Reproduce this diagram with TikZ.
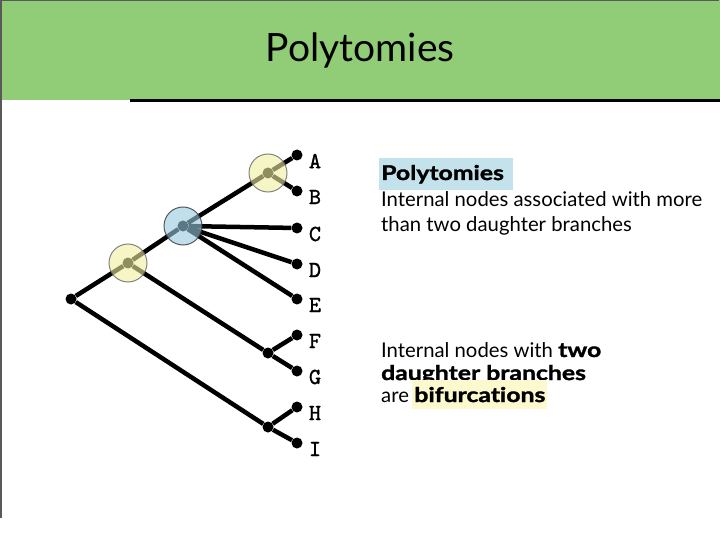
\documentclass[tikz,border=0pt]{standalone}
\usepackage{fontspec}
\setmainfont{Lato}[Ligatures=NoCommon, BoldFeatures={FakeStretch=1.22, FakeBold=1.6}]
\newfontfamily\leaffont{lmmono10-regular.otf}[FakeBold=1.2]
\usetikzlibrary{positioning}

\definecolor{headgreen}{RGB}{145,204,118}
\definecolor{boxblue}{RGB}{196,226,236}
\definecolor{hiyellow}{RGB}{252,249,206}
\definecolor{polyblue}{RGB}{150,200,222}
\definecolor{biyellow}{RGB}{240,238,160}

\begin{document}
\begin{tikzpicture}[
    x=1pt, y=-1pt,
    branch/.style={line width=4.5pt},
    tip/.style={circle, fill=black, inner sep=0pt, minimum size=11pt},
    leaf/.style={font=\leaffont\fontsize{23}{23}\selectfont, anchor=center},
    ring/.style={circle, draw=gray!80!black, line width=1pt, minimum size=38pt, inner sep=0pt, fill opacity=0.6, draw opacity=0.8},
    txt/.style={font=\fontsize{20.3}{20.3}\selectfont, anchor=base west, inner sep=0pt}
]
\useasboundingbox (0,0) rectangle (720,540);

% header
\fill[headgreen] (0,0) rectangle (720,100);
\draw[gray!70!black, line width=1.5pt] (0.75,0) -- (719,0);
\draw[gray!70!black, line width=1.5pt] (0.75,0) -- (0.75,518);
\draw[line width=3pt] (130,101) -- (720,101);
\node[font=\fontsize{39}{39}\selectfont] (title) at (360,50) {Polytomies};

% tree
\node[tip] (root) at (71,299) {};
\node[tip] (n3) at (128,263) {};
\node[tip] (nCDE) at (183,226) {};
\node[tip] (nAB) at (268,173) {};
\node[tip] (nFG) at (268,353) {};
\node[tip] (nHI) at (268,427) {};

\node[tip] (tA) at (297,155) {};
\node[tip] (tB) at (297,191) {};
\node[tip] (tC) at (297,228) {};
\node[tip] (tD) at (297,264) {};
\node[tip] (tE) at (297,299) {};
\node[tip] (tF) at (297,335) {};
\node[tip] (tG) at (297,371) {};
\node[tip] (tH) at (297,407) {};
\node[tip] (tI) at (297,443) {};

\node[leaf] (lA) at (315,161) {A};
\node[leaf] (lB) at (315,197) {B};
\node[leaf] (lC) at (315,234) {C};
\node[leaf] (lD) at (315,270) {D};
\node[leaf] (lE) at (315,305) {E};
\node[leaf] (lF) at (315,341) {F};
\node[leaf] (lG) at (315,377) {G};
\node[leaf] (lH) at (315,413) {H};
\node[leaf] (lI) at (315,449) {I};

\draw[branch] (root) -- (n3);
\draw[branch] (root) -- (nHI);
\draw[branch] (n3) -- (nCDE);
\draw[branch] (n3) -- (nFG);
\draw[branch] (nCDE) -- (nAB);
\draw[branch] (nCDE) -- (tC);
\draw[branch] (nCDE) -- (tD);
\draw[branch] (nCDE) -- (tE);
\draw[branch] (nAB) -- (tA);
\draw[branch] (nAB) -- (tB);
\draw[branch] (nFG) -- (tF);
\draw[branch] (nFG) -- (tG);
\draw[branch] (nHI) -- (tH);
\draw[branch] (nHI) -- (tI);

% highlighted internal nodes
\node[ring, fill=biyellow] (cAB) at (nAB) {};
\node[ring, fill=biyellow] (c3) at (n3) {};
\node[ring, fill=polyblue, draw=black!80] (cCDE) at (nCDE) {};

% polytomies text
\node[fill=boxblue, anchor=base west, text width=130pt, inner xsep=2pt, inner ysep=7pt,
      font=\fontsize{20.3}{20.3}\selectfont\bfseries] (polybox) at (379,180) {Polytomies};
\node[txt] (poly1) at (381,207) {Internal nodes associated with more};
\node[txt] (poly2) at (381,232) {than two daughter branches};

% bifurcations text
\node[txt] (bi1) at (381,357) {Internal nodes with \textbf{two}};
\node[txt] (bi2) at (381,380) {\textbf{daughter branches}};
\node[txt] (bi3) at (381,402) {are};
\node[fill=hiyellow, inner xsep=2pt, inner ysep=7pt,
      font=\fontsize{20.3}{20.3}\selectfont\bfseries, right=3pt of bi3.base east, anchor=base west] (bifur) {bifurcations};
\end{tikzpicture}
\end{document}
